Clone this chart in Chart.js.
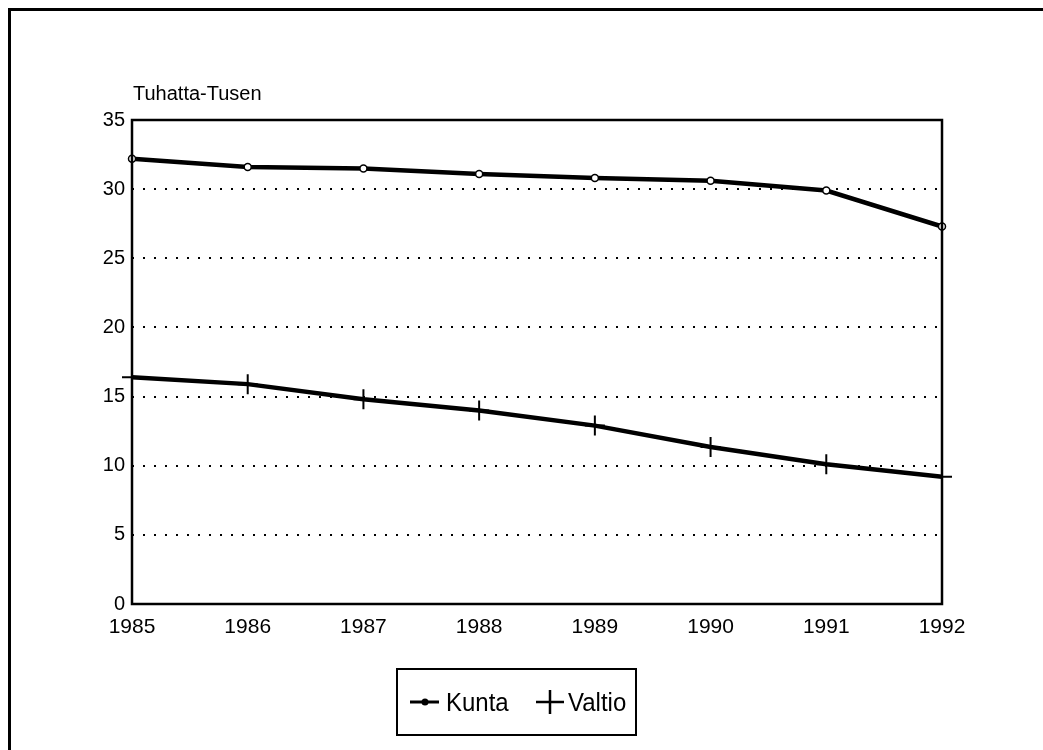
<!DOCTYPE html>
<html>
<head>
<meta charset="utf-8">
<script src="https://cdn.jsdelivr.net/npm/chart.js@4"></script>
<style>
  html, body { margin: 0; padding: 0; background: #fff; }
  #frame {
    position: absolute; left: 8px; top: 8px; width: 1100px; height: 800px;
    border-left: 3px solid #000; border-top: 3px solid #000;
  }
  #wrap { position: absolute; left: 0; top: 0; width: 1043px; height: 750px; }
</style>
</head>
<body>
<div id="frame"></div>
<div id="wrap"><canvas id="chart"></canvas></div>
<script>
// data
const years = ['1985', '1986', '1987', '1988', '1989', '1990', '1991', '1992'];
const kunta = [32.2, 31.6, 31.5, 31.1, 30.8, 30.6, 29.9, 27.3];
const valtio = [16.4, 15.9, 14.8, 14.0, 12.9, 11.35, 10.1, 9.2];
const yTicks = [0, 5, 10, 15, 20, 25, 30, 35];
const unitLabel = 'Tuhatta-Tusen';

const FONT = 'Liberation Sans, Arial, Helvetica, sans-serif';

// frame round the plot area, unit label and boxed legend
const decorations = {
    id: 'decorations',
    afterDraw(chart) {
        const ctx = chart.ctx;
        const a = chart.chartArea;
        ctx.save();
        ctx.strokeStyle = '#000';
        ctx.lineWidth = 2.5;
        ctx.strokeRect(a.left, a.top, a.right - a.left, a.bottom - a.top);

        ctx.fillStyle = '#000';
        ctx.font = '20px ' + FONT;
        ctx.textBaseline = 'alphabetic';
        ctx.fillText(unitLabel, a.left + 1, a.top - 20);

        // legend
        const bx = 397, by = 669, bw = 239, bh = 66;
        ctx.lineWidth = 2;
        ctx.strokeRect(bx, by, bw, bh);

        const cy = 702;
        ctx.lineWidth = 3;
        ctx.beginPath();
        ctx.moveTo(410, cy); ctx.lineTo(439, cy);
        ctx.stroke();
        ctx.beginPath();
        ctx.arc(425, cy, 3.5, 0, Math.PI * 2);
        ctx.fill();

        ctx.lineWidth = 2.5;
        ctx.beginPath();
        ctx.moveTo(536, cy); ctx.lineTo(564, cy);
        ctx.moveTo(550, cy - 12); ctx.lineTo(550, cy + 12);
        ctx.stroke();

        ctx.font = '24px ' + FONT;
        ctx.translate(0, cy + 9);
        ctx.scale(1, 1.05);
        ctx.fillText(chart.data.datasets[0].label, 446, 0);
        ctx.fillText(chart.data.datasets[1].label, 568, 0);
        ctx.restore();
    }
};

new Chart(document.getElementById('chart'), {
    type: 'line',
    data: {
        labels: years,
        datasets: [{
            label: 'Kunta',
            data: kunta,
            borderColor: '#000',
            borderWidth: 4.5,
            pointStyle: 'circle',
            pointRadius: 3.5,
            pointBorderWidth: 1.5,
            pointBackgroundColor: '#fff',
            pointBorderColor: '#000',
            tension: 0
        }, {
            label: 'Valtio',
            data: valtio,
            borderColor: '#000',
            borderWidth: 4.5,
            pointStyle: 'cross',
            pointRadius: 10,
            pointBorderWidth: 2,
            pointBorderColor: '#000',
            tension: 0
        }]
    },
    options: {
        responsive: true,
        maintainAspectRatio: false,
        animation: false,
        devicePixelRatio: 1,
        layout: { padding: { top: 120, right: 101, left: 0, bottom: 0 } },
        plugins: {
            legend: { display: false },
            tooltip: { enabled: false }
        },
        scales: {
            x: {
                offset: false,
                grid: { display: false, drawTicks: false },
                border: { display: false },
                ticks: {
                    color: '#000',
                    font: { family: FONT, size: 21 },
                    padding: 11,
                    maxRotation: 0,
                    autoSkip: false
                },
                afterFit(scale) { scale.height = 146; }
            },
            y: {
                min: 0,
                max: 35,
                afterBuildTicks(scale) { scale.ticks = yTicks.map(v => ({ value: v })); },
                grid: {
                    drawTicks: false,
                    color: ctx => (ctx.tick && (ctx.tick.value === 0 || ctx.tick.value === 35)) ? 'rgba(0,0,0,0)' : '#000',
                    lineWidth: 2,
                    tickBorderDash: [2, 9]
                },
                border: { display: false, dash: [2, 9] },
                ticks: {
                    color: '#000',
                    font: { family: FONT, size: 20 },
                    padding: 7
                },
                afterFit(scale) { scale.width = 132; }
            }
        }
    },
    plugins: [decorations]
});
</script>
</body>
</html>
